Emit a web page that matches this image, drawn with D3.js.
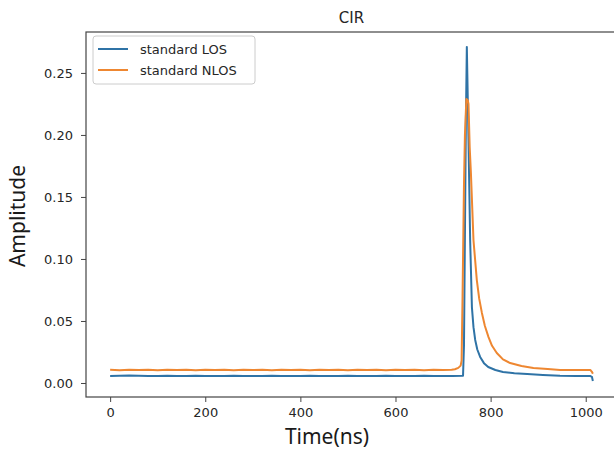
<!DOCTYPE html>
<html>
<head>
<meta charset="utf-8">
<script src="https://cdn.jsdelivr.net/npm/d3@7"></script>
<style>
  body { margin: 0; background: #fff; }
  svg { display: block; }
  .tick text { font-family: "DejaVu Sans", sans-serif; font-size: 13px; fill: #262626; }
</style>
</head>
<body>
<svg id="chart" width="614" height="450"></svg>
<script>
// values
const xTicks = [0, 200, 400, 600, 800, 1000];
const yTicks = [0, 0.05, 0.10, 0.15, 0.20, 0.25];

const losTime = [0, 20, 40, 60, 80, 100, 120, 140, 160, 180, 200, 220, 240, 260, 280, 300, 320, 340, 360, 380,
  400, 420, 440, 460, 480, 500, 520, 540, 560, 580, 600, 620, 640, 660, 680, 700, 720, 742,
  744, 746, 748, 750, 751, 753.5, 757, 760.7, 764, 767.6, 772, 778, 786, 795, 810, 826, 850, 877, 910,
  946, 980, 1010, 1013, 1015];
const losAmp = [0.0057, 0.0058, 0.0060, 0.0058, 0.0056, 0.0057, 0.0058, 0.0057, 0.0056, 0.0058, 0.0057, 0.0056,
  0.0057, 0.0058, 0.0057, 0.0056, 0.0057, 0.0058, 0.0057, 0.0056, 0.0057, 0.0058, 0.0057, 0.0056, 0.0057,
  0.0058, 0.0057, 0.0056, 0.0057, 0.0058, 0.0057, 0.0056, 0.0057, 0.0058, 0.0057, 0.0056, 0.0057, 0.0058,
  0.03, 0.12, 0.21, 0.271, 0.25, 0.196, 0.115, 0.061, 0.045, 0.0347, 0.027, 0.021, 0.016, 0.0129, 0.0105,
  0.0089, 0.0079, 0.0073, 0.0065, 0.0058, 0.0057, 0.0056, 0.0050, 0.0016];

const nlosTime = [0, 20, 40, 60, 80, 100, 120, 140, 160, 180, 200, 220, 240, 260, 280, 300, 320, 340, 360, 380,
  400, 420, 440, 460, 480, 500, 520, 540, 560, 580, 600, 620, 640, 660, 680, 700, 718, 725, 732, 737,
  739, 741, 742, 744, 746, 749, 752, 753.5, 756, 758.6, 764, 771, 776, 781.7, 788, 795.6, 803, 813, 826,
  841, 865, 890, 920, 946, 980, 1010, 1013, 1015];
const nlosAmp = [0.0106, 0.0103, 0.0107, 0.0104, 0.0107, 0.0103, 0.0106, 0.0104, 0.0107, 0.0103, 0.0106, 0.0104,
  0.0107, 0.0103, 0.0106, 0.0104, 0.0107, 0.0103, 0.0106, 0.0104, 0.0107, 0.0103, 0.0106, 0.0104, 0.0107,
  0.0103, 0.0106, 0.0104, 0.0107, 0.0103, 0.0106, 0.0104, 0.0107, 0.0103, 0.0106, 0.0105, 0.0107, 0.0111,
  0.0122, 0.014, 0.018, 0.07, 0.10, 0.16, 0.20, 0.229, 0.228, 0.225, 0.19, 0.169, 0.115, 0.083, 0.068,
  0.0565, 0.046, 0.037, 0.030, 0.0242, 0.019, 0.0161, 0.0137, 0.0121, 0.0112, 0.0105, 0.0104, 0.0104,
  0.0090, 0.0075];

const series = [
  { name: 'standard LOS', color: '#2f73a6', time: losTime, amp: losAmp },
  { name: 'standard NLOS', color: '#ee8731', time: nlosTime, amp: nlosAmp }
];

const svg = d3.select('#chart');
const plotLeft = 86, plotRight = 617, plotTop = 32, plotBottom = 397;

const x = d3.scaleLinear().domain([-50.75, 1065.75]).range([plotLeft, plotRight]);
const y = d3.scaleLinear().domain([-0.0113, 0.283]).range([plotBottom, plotTop]);

// lines
const line = d3.line()
  .x(d => x(d[0]))
  .y(d => y(d[1]));

series.forEach(s => {
  svg.append('path')
    .datum(s.time.map((t, i) => [t, s.amp[i]]))
    .attr('d', line)
    .attr('fill', 'none')
    .attr('stroke', s.color)
    .attr('stroke-width', 2)
    .attr('stroke-linejoin', 'round');
});

// axes
const xAxis = svg.append('g')
  .attr('transform', `translate(0,${plotBottom})`)
  .call(d3.axisBottom(x).tickValues(xTicks).tickFormat(d3.format('d')).tickSize(5).tickPadding(6).tickSizeOuter(0));
const yAxis = svg.append('g')
  .attr('transform', `translate(${plotLeft},0)`)
  .call(d3.axisLeft(y).tickValues(yTicks).tickFormat(d3.format('.2f')).tickSize(5).tickPadding(8).tickSizeOuter(0));

[xAxis, yAxis].forEach(g => {
  g.select('.domain').remove();
  g.selectAll('.tick line').attr('stroke', '#444').attr('stroke-width', 1);
});

// frame
svg.append('rect')
  .attr('x', plotLeft).attr('y', plotTop)
  .attr('width', plotRight - plotLeft).attr('height', plotBottom - plotTop)
  .attr('fill', 'none')
  .attr('stroke', '#444')
  .attr('stroke-width', 1.2);

// title and labels
svg.append('text')
  .attr('x', (plotLeft + plotRight) / 2).attr('y', 23)
  .attr('text-anchor', 'middle')
  .style('font-family', '"DejaVu Sans", sans-serif')
  .style('font-size', '15px')
  .attr('fill', '#262626')
  .text('CIR');

svg.append('text')
  .attr('x', 327).attr('y', 444)
  .attr('text-anchor', 'middle')
  .style('font-family', '"Noto Sans", sans-serif')
  .style('font-size', '21px')
  .attr('fill', '#1a1a1a')
  .text('Time(ns)');

svg.append('text')
  .attr('transform', 'translate(25,216) rotate(-90)')
  .attr('text-anchor', 'middle')
  .style('font-family', '"Noto Sans", sans-serif')
  .style('font-size', '21px')
  .attr('fill', '#1a1a1a')
  .text('Amplitude');

// legend
const legend = svg.append('g');
legend.append('rect')
  .attr('x', 93).attr('y', 36)
  .attr('width', 162).attr('height', 48)
  .attr('rx', 3)
  .attr('fill', '#fff').attr('fill-opacity', 0.8)
  .attr('stroke', '#ccc');

series.forEach((s, i) => {
  const ly = 49 + i * 21;
  legend.append('line')
    .attr('x1', 98).attr('x2', 128)
    .attr('y1', ly).attr('y2', ly)
    .attr('stroke', s.color).attr('stroke-width', 2);
  legend.append('text')
    .attr('x', 140).attr('y', ly + 5)
    .style('font-family', '"DejaVu Sans", sans-serif')
    .style('font-size', '13px')
    .attr('fill', '#262626')
    .text(s.name);
});
</script>
</body>
</html>
